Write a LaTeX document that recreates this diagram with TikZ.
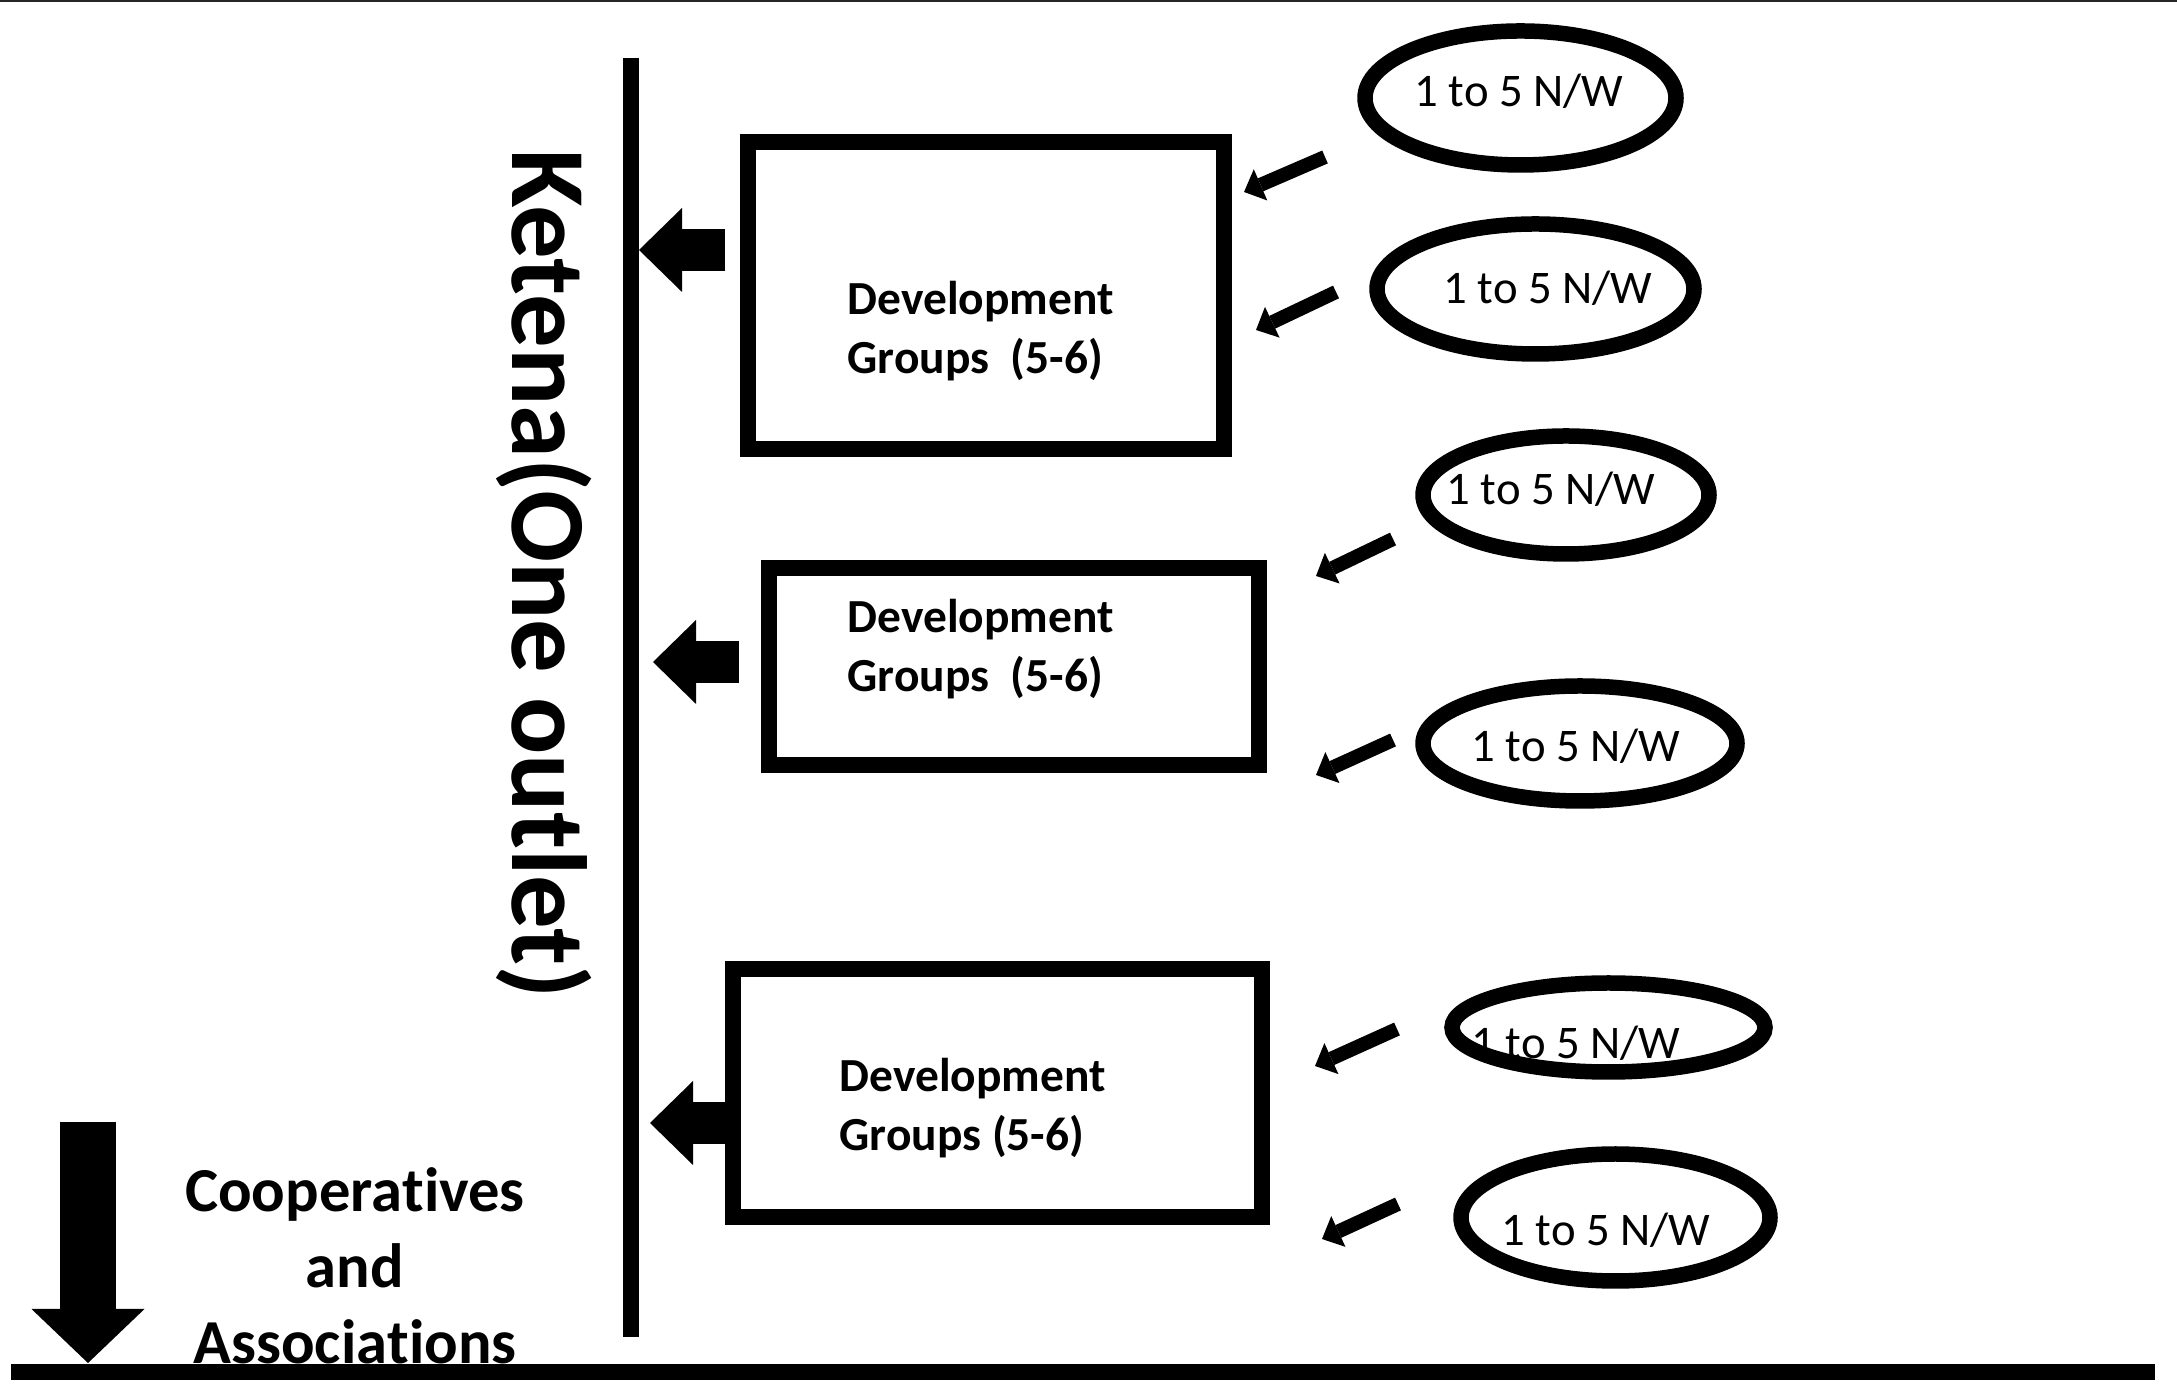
\documentclass[tikz,border=0pt]{standalone}
\usepackage{fontspec}
\setmainfont{Carlito}[Ligatures=NoCommon]
\usetikzlibrary{arrows.meta,shapes.geometric}
\tikzset{
    every node/.style={align=center,},
    group/.style={draw,rectangle,line width=0.16cm,inner sep=0pt,},
    worker/.style={draw,ellipse,line width=0.155cm,inner sep=0pt,},
    worker_text/.style={font=\fontsize{13.3}{16}\selectfont,anchor=base,inner sep=0pt,},
    group_text/.style={font=\bfseries\fontsize{13.5}{16.7}\selectfont,align=left,anchor=west,inner sep=0pt,},
    feed/.style={line width=0.14cm,-{Triangle[length=0.18cm,width=0.34cm,line width=0pt]},},
    pass/.style={line width=0.42cm,-{Triangle[length=0.43cm,width=0.84cm,line width=0pt]},},
    down/.style={line width=0.56cm,-{Triangle[length=0.54cm,width=1.13cm,line width=0pt]},},
}
\begin{document}
\begin{tikzpicture}
                \useasboundingbox (0, 0) rectangle (21.77, 13.83);
                \draw[line width=0.6pt, black!85] (0, 13.82) -- (21.77, 13.82);

                % base line and ketena line
                \coordinate (base_left) at (0.11, 0.11);
                \coordinate (base_right) at (21.55, 0.11);
                \draw[line width=0.16cm] (base_left) -- (base_right);
                \coordinate (line_top) at (6.31, 13.25);
                \coordinate (line_bottom) at (6.31, 0.46);
                \draw[line width=0.16cm] (line_top) -- (line_bottom);

                \node[rotate=-90, anchor=base, font=\bfseries\fontsize{30.4}{36}\selectfont] (ketena) at (5.12, 8.09) {Ketena(One outlet)};

                % development groups
                \node[group, minimum width=4.76cm, minimum height=3.07cm] (dg1) at (9.855, 10.87) {};
                \node[group, minimum width=4.90cm, minimum height=1.97cm] (dg2) at (10.135, 7.16) {};
                \node[group, minimum width=5.29cm, minimum height=2.48cm] (dg3) at (9.97, 2.895) {};
                \node[group_text] (dg1_label) at (8.47, 10.52) {Development\\Groups~ (5-6)};
                \node[group_text] (dg2_label) at (8.47, 7.34) {Development\\Groups~ (5-6)};
                \node[group_text] (dg3_label) at (8.39, 2.75) {Development\\Groups (5-6)};

                % 1 to 5 N/W
                \node[worker, minimum width=3.11cm, minimum height=1.34cm] (nw1) at (15.205, 12.85) {};
                \node[worker, minimum width=3.17cm, minimum height=1.30cm] (nw2) at (15.355, 10.94) {};
                \node[worker, minimum width=2.86cm, minimum height=1.18cm] (nw3) at (15.66, 8.88) {};
                \node[worker, minimum width=3.14cm, minimum height=1.15cm] (nw4) at (15.80, 6.395) {};
                \node[worker, minimum width=3.13cm, minimum height=0.89cm] (nw5) at (16.085, 3.555) {};
                \node[worker, minimum width=3.09cm, minimum height=1.27cm] (nw6) at (16.155, 1.655) {};
                \node[worker_text] (nw1_label) at (15.19, 12.76) {1 to 5 N/W};
                \node[worker_text] (nw2_label) at (15.48, 10.79) {1 to 5 N/W};
                \node[worker_text] (nw3_label) at (15.51, 8.78) {1 to 5 N/W};
                \node[worker_text] (nw4_label) at (15.76, 6.21) {1 to 5 N/W};
                \node[worker_text] (nw5_label) at (15.76, 3.24) {1 to 5 N/W};
                \node[worker_text] (nw6_label) at (16.06, 1.37) {1 to 5 N/W};

                \coordinate (nw1_out) at (13.25, 12.26);
                \coordinate (nw2_out) at (13.36, 10.91);
                \coordinate (nw3_out) at (13.93, 8.44);
                \coordinate (nw4_out) at (13.93, 6.43);
                \coordinate (nw5_out) at (13.97, 3.54);
                \coordinate (nw6_out) at (13.98, 1.79);
                \coordinate (dg1_in1) at (12.44, 11.91);
                \coordinate (dg1_in2) at (12.56, 10.53);
                \coordinate (dg2_in1) at (13.16, 8.07);
                \coordinate (dg2_in2) at (13.16, 6.08);
                \coordinate (dg3_in1) at (13.15, 3.17);
                \coordinate (dg3_in2) at (13.22, 1.44);

                \draw[feed] (nw1_out) to (dg1_in1);
                \draw[feed] (nw2_out) to (dg1_in2);
                \draw[feed] (nw3_out) to (dg2_in1);
                \draw[feed] (nw4_out) to (dg2_in2);
                \draw[feed] (nw5_out) to (dg3_in1);
                \draw[feed] (nw6_out) to (dg3_in2);

                % to ketena
                \coordinate (dg1_out) at (7.25, 11.33);
                \coordinate (dg2_out) at (7.39, 7.21);
                \coordinate (dg3_out) at (7.25, 2.60);
                \coordinate (ketena_in1) at (6.39, 11.33);
                \coordinate (ketena_in2) at (6.53, 7.21);
                \coordinate (ketena_in3) at (6.50, 2.60);
                \draw[pass] (dg1_out) to (ketena_in1);
                \draw[pass] (dg2_out) to (ketena_in2);
                \draw[pass] (dg3_out) to (ketena_in3);

                % cooperatives
                \coordinate (coop_top) at (0.88, 2.61);
                \coordinate (coop_tip) at (0.88, 0.20);
                \draw[down] (coop_top) to (coop_tip);
                \node[font=\bfseries\fontsize{17.8}{21.7}\selectfont] (coop) at (3.55, 1.17) {Coopera\kern0pt tives\\and\\Associa\kern0pt tions};
            \end{tikzpicture}
\end{document}
